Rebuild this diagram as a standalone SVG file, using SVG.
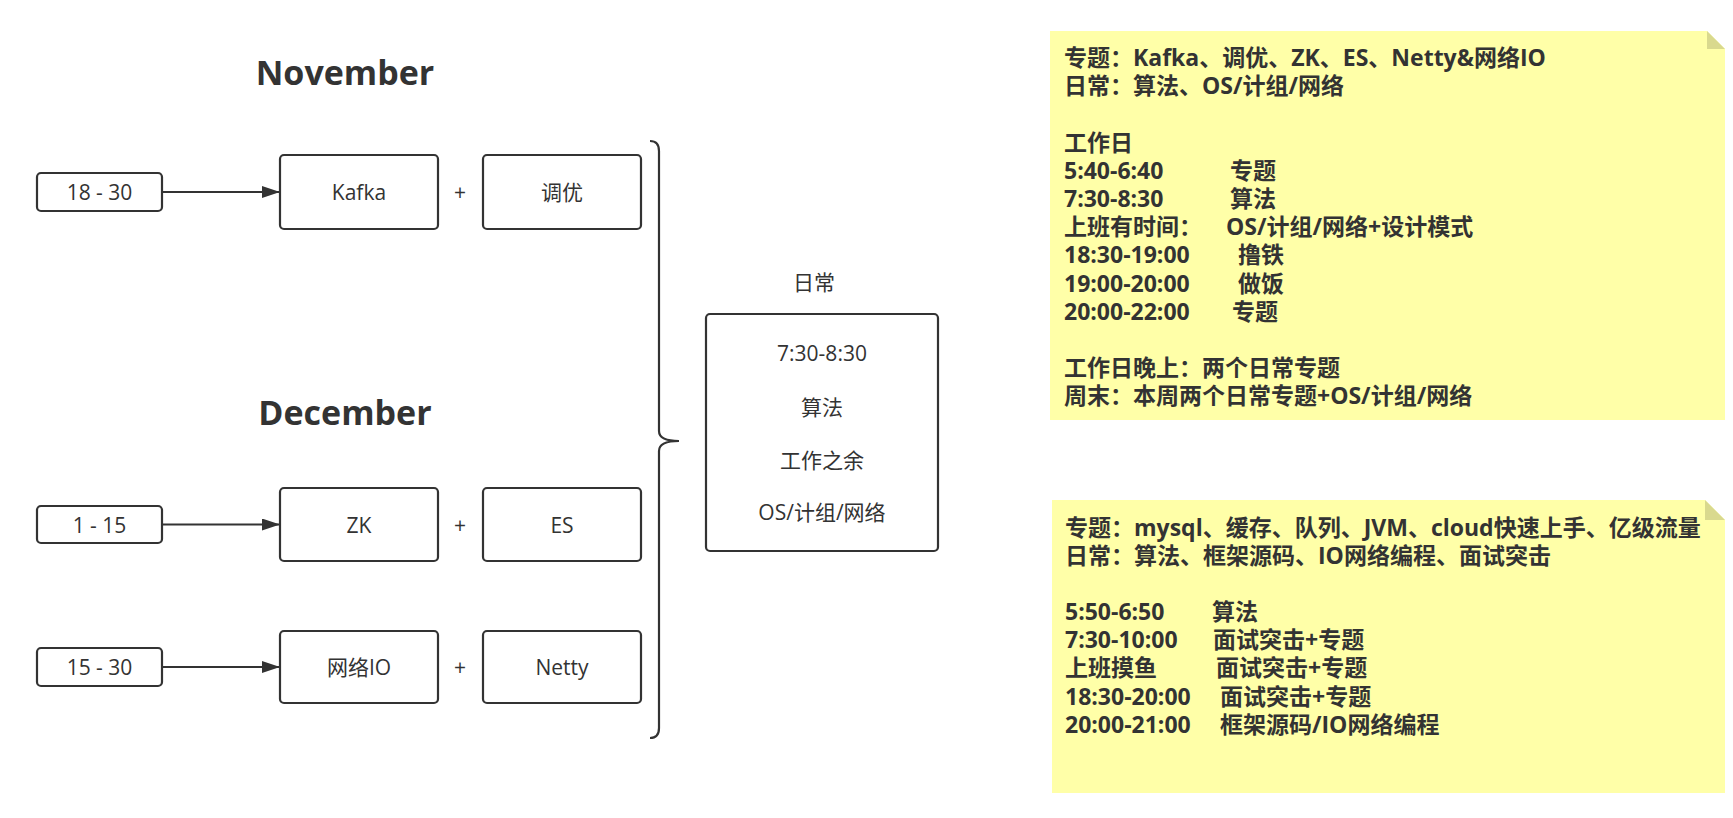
<svg xmlns="http://www.w3.org/2000/svg" width="1733" height="818" viewBox="0 0 1733 818">
<defs>
<marker id="arrow" markerUnits="userSpaceOnUse" markerWidth="20" markerHeight="12" refX="18" refY="6" orient="auto">
<path d="M0,0 L18,6 L0,12 Z" fill="#333333"/>
</marker>
</defs>
<style>
.box{fill:#ffffff;stroke:#333333;stroke-width:2.2}
.t{font-family:"Open Sans","Noto Sans CJK SC",sans-serif;font-size:21px;fill:#333333;text-anchor:middle;dominant-baseline:central}
.title{font-family:"Open Sans","Noto Sans CJK SC",sans-serif;font-size:34px;font-weight:bold;fill:#333333;text-anchor:middle}
.note{fill:#ffffa8}
.fold{fill:#d9d98e}
.nt{font-family:"Open Sans","Noto Sans CJK SC",sans-serif;font-size:23px;font-weight:bold;fill:#333333}
.conn{fill:none;stroke:#333333;stroke-width:2.2}
</style>
<rect width="1733" height="818" fill="#ffffff"/>

<g id="title-november"><text class="title" x="345" y="85">November</text></g>
<g id="title-december"><text class="title" x="345" y="425">December</text></g>

<g id="n-18-30"><rect class="box" x="37" y="173" width="125" height="38" rx="4"/><text class="t" x="99.5" y="192">18 - 30</text></g>
<g id="n-kafka"><rect class="box" x="280" y="155" width="158" height="74" rx="4"/><text class="t" x="359" y="192">Kafka</text></g>
<g id="plus-1"><text class="t" x="460" y="192">+</text></g>
<g id="n-tuning"><rect class="box" x="483" y="155" width="158" height="74" rx="4"/><text class="t" x="562" y="192">调优</text></g>

<g id="n-1-15"><rect class="box" x="37" y="506" width="125" height="37" rx="4"/><text class="t" x="99.5" y="524.5">1 - 15</text></g>
<g id="n-zk"><rect class="box" x="280" y="488" width="158" height="73" rx="4"/><text class="t" x="359" y="524.5">ZK</text></g>
<g id="plus-2"><text class="t" x="460" y="524.5">+</text></g>
<g id="n-es"><rect class="box" x="483" y="488" width="158" height="73" rx="4"/><text class="t" x="562" y="524.5">ES</text></g>

<g id="n-15-30"><rect class="box" x="37" y="648" width="125" height="38" rx="4"/><text class="t" x="99.5" y="667">15 - 30</text></g>
<g id="n-netio"><rect class="box" x="280" y="631" width="158" height="72" rx="4"/><text class="t" x="359" y="667">网络IO</text></g>
<g id="plus-3"><text class="t" x="460" y="667">+</text></g>
<g id="n-netty"><rect class="box" x="483" y="631" width="158" height="72" rx="4"/><text class="t" x="562" y="667">Netty</text></g>

<g id="n-daily-label"><text class="t" x="814" y="282">日常</text></g>
<g id="n-daily"><rect class="box" x="706" y="314" width="232" height="237" rx="4"/>
<text class="t" x="822" y="353">7:30-8:30</text>
<text class="t" x="822" y="407">算法</text>
<text class="t" x="822" y="460">工作之余</text>
<text class="t" x="822" y="512">OS/计组/网络</text>
</g>

<g id="connectors">
<line class="conn" x1="162" y1="192" x2="280" y2="192" marker-end="url(#arrow)"/>
<line class="conn" x1="162" y1="524.5" x2="280" y2="524.5" marker-end="url(#arrow)"/>
<line class="conn" x1="162" y1="667" x2="280" y2="667" marker-end="url(#arrow)"/>
<path class="conn" d="M650,141 Q659,141 659,151 L659,431 Q659,441 679,441 Q659,441 659,451 L659,728 Q659,738 650,738"/>
</g>

<g id="note-1">
<path class="note" d="M1050,31 L1707,31 L1725,49 L1725,420 L1050,420 Z"/>
<path class="fold" d="M1707,31 L1707,49 L1725,49 Z"/>
<text class="nt" x="1064" y="66">专题：Kafka、调优、ZK、ES、Netty&amp;网络IO</text>
<text class="nt" x="1064" y="94.2">日常：算法、OS/计组/网络</text>
<text class="nt" x="1064" y="150.6">工作日</text>
<text class="nt" x="1064" y="178.8">5:40-6:40<tspan x="1230">专题</tspan></text>
<text class="nt" x="1064" y="207">7:30-8:30<tspan x="1230">算法</tspan></text>
<text class="nt" x="1064" y="235.2">上班有时间：<tspan x="1226">OS/计组/网络+设计模式</tspan></text>
<text class="nt" x="1064" y="263.4">18:30-19:00<tspan x="1238">撸铁</tspan></text>
<text class="nt" x="1064" y="291.6">19:00-20:00<tspan x="1238">做饭</tspan></text>
<text class="nt" x="1064" y="319.8">20:00-22:00<tspan x="1232">专题</tspan></text>
<text class="nt" x="1064" y="376.2">工作日晚上：两个日常专题</text>
<text class="nt" x="1064" y="404.4">周末：本周两个日常专题+OS/计组/网络</text>
</g>

<g id="note-2">
<path class="note" d="M1052,500 L1705,500 L1725,520 L1725,793 L1052,793 Z"/>
<path class="fold" d="M1705,500 L1705,520 L1725,520 Z"/>
<text class="nt" x="1065" y="536">专题：mysql、缓存、队列、JVM、cloud快速上手、亿级流量</text>
<text class="nt" x="1065" y="564">日常：算法、框架源码、IO网络编程、面试突击</text>
<text class="nt" x="1065" y="620">5:50-6:50<tspan x="1212">算法</tspan></text>
<text class="nt" x="1065" y="648">7:30-10:00<tspan x="1213">面试突击+专题</tspan></text>
<text class="nt" x="1065" y="676">上班摸鱼<tspan x="1216">面试突击+专题</tspan></text>
<text class="nt" x="1065" y="705">18:30-20:00<tspan x="1220">面试突击+专题</tspan></text>
<text class="nt" x="1065" y="733">20:00-21:00<tspan x="1220">框架源码/IO网络编程</tspan></text>
</g>
</svg>
